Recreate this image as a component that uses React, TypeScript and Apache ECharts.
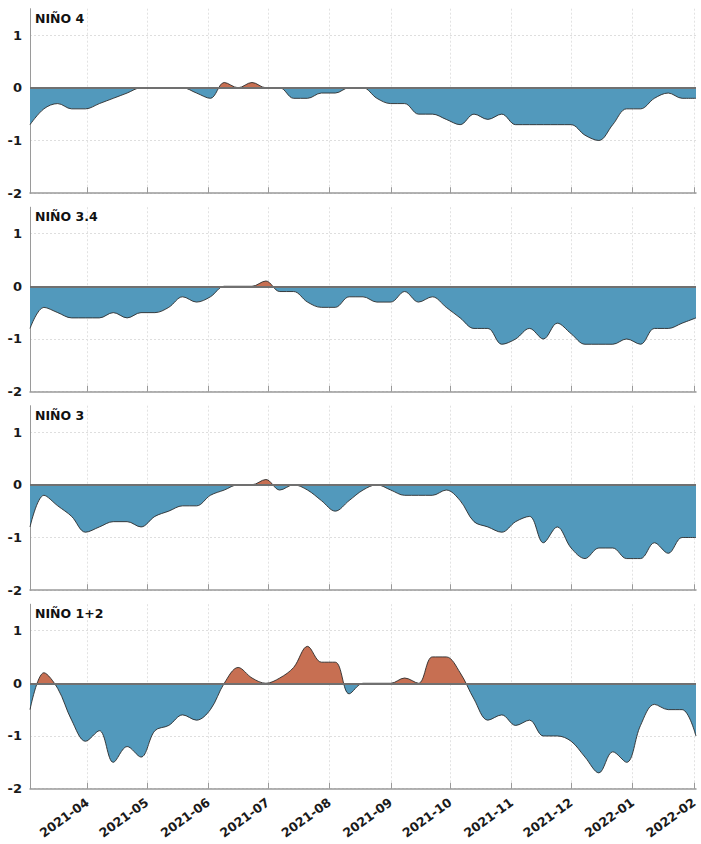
import { useEffect, useRef } from 'react';
import * as echarts from 'echarts';

const weekDates: string[] = [
  '2021-03-03', '2021-03-10', '2021-03-17', '2021-03-24', '2021-03-31',
  '2021-04-07', '2021-04-14', '2021-04-21', '2021-04-28',
  '2021-05-05', '2021-05-12', '2021-05-19', '2021-05-26',
  '2021-06-02', '2021-06-09', '2021-06-16', '2021-06-23', '2021-06-30',
  '2021-07-07', '2021-07-14', '2021-07-21', '2021-07-28',
  '2021-08-04', '2021-08-11', '2021-08-18', '2021-08-25',
  '2021-09-01', '2021-09-08', '2021-09-15', '2021-09-22', '2021-09-29',
  '2021-10-06', '2021-10-13', '2021-10-20', '2021-10-27',
  '2021-11-03', '2021-11-10', '2021-11-17', '2021-11-24',
  '2021-12-01', '2021-12-08', '2021-12-15', '2021-12-22', '2021-12-29',
  '2022-01-05', '2022-01-12', '2022-01-19', '2022-01-26',
  '2022-02-02',
];

const monthTicks: string[] = [
  '2021-04-01', '2021-05-01', '2021-06-01', '2021-07-01', '2021-08-01', '2021-09-01',
  '2021-10-01', '2021-11-01', '2021-12-01', '2022-01-01', '2022-02-01',
];

const yTicks: number[] = [-2, -1, 0, 1];

const regionNames: string[] = ['NIÑO 4', 'NIÑO 3.4', 'NIÑO 3', 'NIÑO 1+2'];

const nino4: number[] = [
  -0.7, -0.4, -0.3, -0.4, -0.4, -0.3, -0.2, -0.1, 0, 0, 0, 0, -0.1,
  -0.2, 0.1, 0, 0.1, 0, 0, -0.2, -0.2, -0.1, -0.1, 0, 0, -0.2,
  -0.3, -0.3, -0.5, -0.5, -0.6, -0.7, -0.5, -0.6, -0.5, -0.7, -0.7, -0.7, -0.7,
  -0.7, -0.9, -1.0, -0.7, -0.4, -0.4, -0.2, -0.1, -0.2, -0.2,
];

const nino34: number[] = [
  -0.8, -0.4, -0.5, -0.6, -0.6, -0.6, -0.5, -0.6, -0.5, -0.5, -0.4, -0.2, -0.3,
  -0.2, 0, 0, 0, 0.1, -0.1, -0.1, -0.3, -0.4, -0.4, -0.2, -0.2, -0.3,
  -0.3, -0.1, -0.3, -0.2, -0.4, -0.6, -0.8, -0.8, -1.1, -1.0, -0.8, -1.0, -0.7,
  -0.9, -1.1, -1.1, -1.1, -1.0, -1.1, -0.8, -0.8, -0.7, -0.6,
];

const nino3: number[] = [
  -0.8, -0.2, -0.4, -0.6, -0.9, -0.8, -0.7, -0.7, -0.8, -0.6, -0.5, -0.4, -0.4,
  -0.2, -0.1, 0, 0, 0.1, -0.1, 0, -0.1, -0.3, -0.5, -0.3, -0.1, 0,
  -0.1, -0.2, -0.2, -0.2, -0.1, -0.3, -0.7, -0.8, -0.9, -0.7, -0.6, -1.1, -0.8,
  -1.2, -1.4, -1.2, -1.2, -1.4, -1.4, -1.1, -1.3, -1.0, -1.0,
];

const nino12: number[] = [
  -0.5, 0.2, -0.1, -0.7, -1.1, -0.9, -1.5, -1.2, -1.4, -0.9, -0.8, -0.6, -0.7,
  -0.5, 0, 0.3, 0.1, 0, 0.1, 0.3, 0.7, 0.4, 0.4, -0.2, 0, 0,
  0, 0.1, 0, 0.5, 0.5, 0.2, -0.3, -0.7, -0.6, -0.8, -0.7, -1.0, -1.0,
  -1.1, -1.4, -1.7, -1.3, -1.5, -0.8, -0.4, -0.5, -0.5, -1.0,
];

const allSeries: number[][] = [nino4, nino34, nino3, nino12];

const BLUE = '#5299bc';
const RED = '#c76f52';
const FONT = 'DejaVu Sans';

function ts(s: string): number {
  const [y, m, d] = s.split('-').map(Number);
  return Date.UTC(y, m - 1, d);
}

function fmtMonth(v: number): string {
  const d = new Date(v);
  return `${d.getUTCFullYear()}-${String(d.getUTCMonth() + 1).padStart(2, '0')}`;
}

export default function App() {
  const ref = useRef<HTMLDivElement>(null);

  useEffect(() => {
    document.body.style.margin = '0';
    if (!ref.current) return;
    const chart = echarts.init(ref.current, undefined, { renderer: 'svg' });

    const xMin = ts(weekDates[0]);
    const xMax = ts(weekDates[weekDates.length - 1]);
    const monthTs = monthTicks.map(ts);
    const gridTops = [8.7, 207.2, 405.7, 604.2];
    const gridH = 184.5;

    const grids = gridTops.map((t) => ({ left: 30, right: 5, top: t, height: gridH }));

    const xAxes = gridTops.map((_, k) => ({
      type: 'value',
      gridIndex: k,
      min: xMin,
      max: xMax,
      axisLine: { show: true, onZero: false, lineStyle: { color: '#9a9a9a', width: 1.5 } },
      axisTick: {
        show: true,
        inside: true,
        length: 6,
        customValues: monthTs,
        lineStyle: { color: '#9a9a9a', width: 1 },
      },
      axisLabel: {
        show: k === 3,
        customValues: monthTs,
        rotate: 36,
        margin: 12,
        formatter: (v: number) => fmtMonth(v),
        fontSize: 12.5,
        fontWeight: 'bold',
        fontFamily: FONT,
        color: '#1a1a1a',
      },
      splitLine: { show: true, lineStyle: { color: '#e2e2e2', width: 1, type: [2, 2] } },
    }));

    const yAxes = gridTops.map((_, k) => ({
      type: 'value',
      gridIndex: k,
      min: -2,
      max: 1.5,
      axisLine: { show: true, onZero: false, lineStyle: { color: '#9a9a9a', width: 1 } },
      axisTick: { show: false, customValues: yTicks },
      axisLabel: {
        customValues: yTicks,
        margin: 8,
        fontSize: 13,
        fontWeight: 'bold',
        fontFamily: FONT,
        color: '#1a1a1a',
      },
      splitLine: { show: true, lineStyle: { color: '#dedede', width: 1, type: [2, 2] } },
    }));

    const series = allSeries.map((vals, k) => ({
      type: 'line',
      name: regionNames[k],
      xAxisIndex: k,
      yAxisIndex: k,
      data: weekDates.map((d, i) => [ts(d), vals[i]]),
      smooth: 0.35,
      showSymbol: false,
      symbol: 'none',
      lineStyle: { color: '#2b2b2b', width: 0.9 },
      areaStyle: { opacity: 1 },
      markLine: {
        silent: true,
        symbol: ['none', 'none'],
        label: { show: false },
        lineStyle: { color: '#707070', width: 2, type: 'solid' },
        data: [{ yAxis: 0 }],
        animation: false,
      },
    }));

    const titles = gridTops.map((t, k) => ({
      text: regionNames[k],
      left: 35,
      top: t + 3,
      padding: 0,
      textStyle: { fontSize: 12.5, fontWeight: 'bold', fontFamily: FONT, color: '#111' },
    }));

    chart.setOption({
      animation: false,
      backgroundColor: '#fff',
      textStyle: { fontFamily: FONT },
      title: titles,
      grid: grids,
      xAxis: xAxes,
      yAxis: yAxes,
      visualMap: {
        show: false,
        type: 'piecewise',
        seriesIndex: [0, 1, 2, 3],
        dimension: 1,
        pieces: [
          { gte: -5, lt: 0, color: BLUE },
          { gte: 0, lte: 5, color: RED },
        ],
      },
      series,
    });

    return () => {
      chart.dispose();
    };
  }, []);

  return <div ref={ref} style={{ width: 701, height: 844 }} />;
}
